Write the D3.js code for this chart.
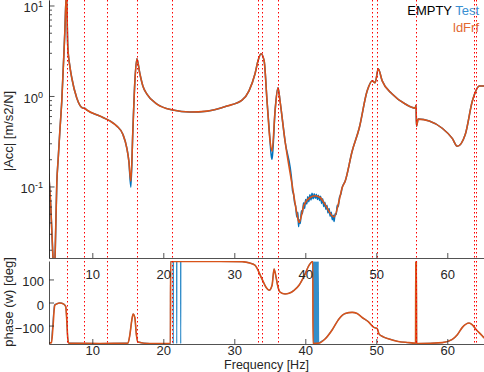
<!DOCTYPE html>
<html>
<head>
<meta charset="utf-8">
<script src="https://cdn.jsdelivr.net/npm/d3@7"></script>
<style>
  body { margin: 0; background: #fff; }
  svg { display: block; }
</style>
</head>
<body>
<div id="plot"></div>
<script>
// ---- data ----
// magnitude, identified FRF (orange)
const frfFreq = [3.86, 4.15, 4.45, 4.60, 4.78, 5.00, 5.18, 5.42, 5.70, 6.12, 6.36, 6.54, 6.83, 7.11, 7.81, 8.66, 8.94, 9.22,
  11.06, 12.47, 13.46, 14.30, 14.87, 15.15, 15.43, 15.71, 16.00, 16.28, 16.70, 17.12, 17.69, 19.10, 21.35, 23.75, 26.15,
  28.97, 31.09, 32.07, 32.92, 33.34, 33.77, 34.20, 34.61, 35.04, 35.32, 35.74, 36.16, 36.44, 37.15, 38.14, 38.84, 39.12,
  39.83, 40.68, 41.38, 42.09, 42.79, 44.06, 44.77, 45.19, 45.61, 46.60, 47.59, 48.72, 49.42, 49.84, 50.27, 50.83, 52.24,
  54.08, 55.49, 55.60, 55.66, 55.90, 57.46, 59.29, 60.70, 61.41, 62.54, 63.53, 64.52, 65.20];
const frfMag = [0.139, 0.060, 0.017, 0.008, 0.020, 0.110, 0.194, 0.40, 0.88, 4.9, 14, 3.6, 2.15, 1.58, 0.95, 0.735, 0.73, 0.70,
  0.60, 0.53, 0.464, 0.378, 0.264, 0.19, 0.114, 0.41, 1.47, 2.58, 1.76, 1.29, 1.05, 0.815, 0.70, 0.664, 0.68,
  0.774, 0.90, 1.14, 1.76, 2.45, 2.93, 2.45, 0.88, 0.316, 0.245, 0.68, 1.23, 0.88, 0.316, 0.105, 0.049, 0.040,
  0.063, 0.0755, 0.079, 0.0755, 0.063, 0.046, 0.070, 0.097, 0.114, 0.245, 0.44, 1.14, 1.47, 1.40, 2.0, 1.47, 1.05,
  0.815, 0.735, 0.79, 0.464, 0.555, 0.53, 0.44, 0.34, 0.278, 0.378, 0.88, 1.29, 1.29];

// magnitude, measured test (blue)
const testFreq = [3.86, 4.15, 4.45, 4.60, 4.78, 5.00, 5.18, 5.42, 5.70, 6.12, 6.36, 6.54, 6.83, 7.11, 7.81, 8.66, 8.94, 9.22,
  11.06, 12.47, 13.46, 14.30, 14.87, 15.15, 15.43, 15.71, 16.00, 16.28, 16.70, 17.12, 17.69, 19.10, 21.35, 23.75, 26.15,
  28.97, 31.09, 32.07, 32.92, 33.34, 33.77, 34.20, 34.61, 35.04, 35.10, 35.20, 35.30, 35.40, 35.74, 36.16, 36.44, 37.15,
  38.14, 38.20, 38.35, 38.50, 38.65, 38.80, 38.95, 39.05, 39.15, 39.30, 39.45, 39.60, 39.75, 39.90, 40.05, 40.20, 40.35,
  40.50, 40.65, 40.80, 40.95, 41.10, 41.25, 41.40, 41.55, 41.70, 41.85, 42.00, 42.15, 42.30, 42.45, 42.60, 42.75, 42.90,
  43.05, 43.20, 43.35, 43.50, 43.65, 43.80, 43.95, 44.05, 44.20, 44.35, 44.50, 44.65, 44.80, 45.00, 45.19, 45.61, 46.60,
  47.59, 48.72, 49.42, 49.84, 50.27, 50.83, 52.24, 54.08, 55.49, 55.60, 55.66, 55.90, 57.46, 59.29, 60.70, 61.41, 62.54,
  63.53, 64.52, 65.20];
const testMag = [0.139, 0.060, 0.017, 0.008, 0.020, 0.110, 0.194, 0.40, 0.88, 4.9, 14, 3.6, 2.15, 1.58, 0.95, 0.735, 0.73, 0.70,
  0.60, 0.53, 0.464, 0.378, 0.264, 0.19, 0.098, 0.41, 1.47, 2.58, 1.76, 1.29, 1.05, 0.815, 0.70, 0.664, 0.68,
  0.774, 0.90, 1.14, 1.76, 2.45, 2.93, 2.45, 0.88, 0.316, 0.27, 0.22, 0.20, 0.23, 0.68, 1.23, 0.88, 0.316,
  0.105, 0.090, 0.082, 0.066, 0.060, 0.046, 0.052, 0.036, 0.043, 0.039, 0.054, 0.050, 0.066, 0.057, 0.072, 0.064, 0.077,
  0.068, 0.081, 0.071, 0.084, 0.073, 0.083, 0.074, 0.082, 0.072, 0.080, 0.070, 0.078, 0.065, 0.073, 0.060, 0.067, 0.056,
  0.062, 0.051, 0.057, 0.047, 0.052, 0.043, 0.048, 0.041, 0.050, 0.049, 0.062, 0.060, 0.075, 0.082, 0.097, 0.114, 0.245,
  0.44, 1.14, 1.47, 1.40, 2.0, 1.47, 1.05, 0.815, 0.735, 0.79, 0.464, 0.555, 0.53, 0.44, 0.34, 0.278, 0.378,
  0.88, 1.29, 1.29];

// phase [deg], identified FRF (orange)
const frfPhFreq = [3.86, 4.25, 4.43, 4.71, 4.99, 5.42, 5.98, 6.26, 6.40, 6.54, 6.69, 11.06, 15.01, 15.29, 15.57, 15.75,
  15.99, 16.21, 16.42, 18.10, 21.00, 21.03, 27.98, 31.09, 32.20, 32.90, 33.91, 34.47, 34.90, 35.32, 35.60, 35.88,
  36.16, 36.44, 37.15, 37.71, 38.42, 39.12, 39.83, 40.54, 41.06, 41.08, 41.95, 42.79, 43.78, 44.77, 45.61, 46.60,
  47.30, 48.01, 48.86, 49.66, 50.13, 50.37, 50.97, 51.78, 53.09, 54.60, 55.53, 55.56, 55.60, 55.64, 55.68, 55.90,
  59.29, 60.70, 61.41, 62.12, 63.06, 63.53, 64.00, 64.94, 65.20];
const frfPhase = [-176, -174, -118, -13, -6, -2, -7, -18, -75, -154, -176, -178, -176, -140, -75, -50,
  -66, -140, -171, -178, -178, 178, 178, 177, 171, 162, 101, 66, 53, 75, 145, 110,
  66, 45, 37, 40, 53, 75, 114, 162, 178, -178, -176, -158, -119, -70, -48, -43,
  -48, -65, -83, -108, -113, -136, -149, -158, -169, -174, -177, 178, -178, 178, -178, -178,
  -174, -160, -140, -108, -89, -97, -115, -145, -154];

// phase [deg], measured test (blue)
const testPhFreq = [3.86, 4.22, 4.40, 4.68, 4.99, 5.42, 5.98, 6.26, 6.40, 6.54, 6.69, 11.06, 15.01, 15.29, 15.57, 15.75,
  15.99, 16.21, 16.42, 18.10, 21.00, 21.03, 21.39, 21.41, 21.43, 21.87, 21.89, 21.91, 22.43, 22.45, 22.47, 27.98,
  31.09, 32.20, 32.90, 33.91, 34.47, 34.90, 35.32, 35.60, 35.88, 36.16, 36.44, 37.15, 37.71, 38.42, 39.12, 39.83,
  40.54, 41.06, 41.10, 41.16, 41.22, 41.28, 41.34, 41.40, 41.46, 41.52, 41.58, 41.64, 41.70, 41.76, 41.82, 41.88,
  41.94, 42.79, 43.78, 44.77, 45.61, 46.60, 47.30, 48.01, 48.86, 49.66, 50.13, 50.37, 50.97, 51.78, 53.09, 54.60,
  55.53, 55.56, 55.60, 55.64, 55.68, 55.90, 59.29, 60.70, 61.41, 62.12, 63.06, 63.53, 64.00, 64.94, 65.20];
const testPhase = [-176, -172, -110, -10, -6, -2, -7, -18, -75, -154, -176, -178, -176, -140, -75, -50,
  -66, -140, -171, -178, -178, 178, 178, -178, 178, 178, -178, 178, 178, -178, 178, 178,
  177, 171, 162, 101, 66, 53, 75, 145, 110, 66, 45, 37, 40, 53, 75, 114,
  162, 178, 178, -178, 178, -178, 178, -178, 178, -178, 178, -178, 178, -178, 178, -178,
  -176, -158, -119, -70, -48, -43, -48, -65, -83, -108, -113, -136, -149, -158, -169, -174,
  -177, 178, -178, 178, -178, -178, -174, -160, -140, -108, -89, -97, -115, -145, -154];

// identified mode frequencies (red dotted lines)
const modeFreqs = [6.38, 8.82, 12.1, 16.32, 21.18, 33.38, 33.94, 36.12, 49.36, 50.14, 55.6, 63.72, 64.1];

// ticks
const freqTicks = [10, 20, 30, 40, 50, 60];
const magTicks = [0.1, 1, 10];
const magExponents = ["-1", "0", "1"];
const phaseTicks = [-100, 0, 100];

// ---- layout ----
const width = 484, height = 372;
const left = 49, right = 484;
const magTop = 0, magBottom = 258;
const phTop = 261, phBottom = 344;
const font = "'Liberation Sans', Arial, Helvetica, sans-serif";
const axisColor = "#262626";
const blue = "#0072BD", orange = "#D95319";

const svg = d3.select("div#plot")
  .append("svg")
    .attr("width", width)
    .attr("height", height)
    .style("font-family", font);

const x = d3.scaleLinear().domain([3.9, 65.17]).range([left, right]);
const yMag = d3.scaleLog().domain([0.0162, 11.5]).range([magBottom, magTop]);
const yPh = d3.scaleLinear().domain([-180, 180]).range([phBottom, phTop]);

const defs = svg.append("defs");
defs.append("clipPath").attr("id", "clipMag")
  .append("rect").attr("x", left).attr("y", magTop).attr("width", right - left).attr("height", magBottom - magTop);
defs.append("clipPath").attr("id", "clipPh")
  .append("rect").attr("x", left).attr("y", phTop).attr("width", right - left).attr("height", phBottom - phTop);

const magLine = d3.line().x(d => x(d[0])).y(d => yMag(d[1])).curve(d3.curveMonotoneX);
const phLine = d3.line().x(d => x(d[0])).y(d => yPh(d[1])).curve(d3.curveMonotoneX);

// magnitude panel
const gMag = svg.append("g").attr("clip-path", "url(#clipMag)");
gMag.append("path")
    .datum(d3.zip(testFreq, testMag))
    .attr("d", magLine)
    .attr("fill", "none")
    .attr("stroke", blue)
    .attr("stroke-width", 1.5);
gMag.append("path")
    .datum(d3.zip(frfFreq, frfMag))
    .attr("d", magLine)
    .attr("fill", "none")
    .attr("stroke", orange)
    .attr("stroke-width", 1.6);

// phase panel
const gPh = svg.append("g").attr("clip-path", "url(#clipPh)");
gPh.append("path")
    .datum(d3.zip(testPhFreq, testPhase))
    .attr("d", phLine)
    .attr("fill", "none")
    .attr("stroke", blue)
    .attr("stroke-width", 1.2)
    .attr("stroke-opacity", 0.8);
gPh.append("path")
    .datum(d3.zip(frfPhFreq, frfPhase))
    .attr("d", phLine)
    .attr("fill", "none")
    .attr("stroke", orange)
    .attr("stroke-width", 1.6);

// red dotted mode lines in both panels
[[magTop, magBottom], [phTop, phBottom]].forEach(([y0, y1]) => {
  svg.append("g").selectAll("line")
    .data(modeFreqs)
    .join("line")
      .attr("x1", d => Math.round(x(d)) + 0.5)
      .attr("x2", d => Math.round(x(d)) + 0.5)
      .attr("y1", y0)
      .attr("y2", y1)
      .attr("stroke", "#ff0000")
      .attr("stroke-width", 1)
      .attr("stroke-dasharray", "1.5,2.5");
});

// axes
function styleAxis(g) {
  g.attr("font-family", font).attr("font-size", 13);
  g.selectAll("path, line").attr("stroke", axisColor).attr("stroke-width", 0.8);
  g.selectAll("text").attr("fill", axisColor);
}

svg.append("g")
    .attr("transform", `translate(0, ${magBottom})`)
    .call(d3.axisBottom(x).tickValues(freqTicks).tickSize(-5).tickSizeOuter(0).tickPadding(12))
    .call(styleAxis);

svg.append("g")
    .attr("transform", `translate(0, ${phBottom})`)
    .call(d3.axisBottom(x).tickValues(freqTicks).tickSize(-5).tickSizeOuter(0).tickPadding(2))
    .call(styleAxis);

// log axis: minor ticks, then major with 10^n labels
svg.append("g")
    .attr("transform", `translate(${left}, 0)`)
    .call(d3.axisLeft(yMag).tickValues(yMag.ticks().filter(v => !magTicks.includes(v))).tickSize(-3).tickSizeOuter(0).tickFormat(""))
    .call(styleAxis);

const magAxis = svg.append("g")
    .attr("transform", `translate(${left}, 0)`)
    .call(d3.axisLeft(yMag).tickValues(magTicks).tickSize(-5.5).tickSizeOuter(0).tickFormat(""))
    .call(styleAxis);
magAxis.selectAll(".tick text").each(function(d, i) {
  const t = d3.select(this).attr("x", -6).attr("dy", "0.5em");
  t.append("tspan").text("10");
  t.append("tspan").attr("dy", "-0.6em").attr("font-size", 9).text(magExponents[i]);
});

svg.append("g")
    .attr("transform", `translate(${left}, 0)`)
    .call(d3.axisLeft(yPh).tickValues(phaseTicks).tickSize(-5).tickSizeOuter(0).tickPadding(5))
    .call(styleAxis)
    .selectAll("text").attr("dy", "0.5em");

// axis labels
svg.append("text")
    .attr("transform", `translate(13, 131) rotate(-90)`)
    .attr("text-anchor", "middle")
    .attr("font-size", 13)
    .attr("fill", axisColor)
    .text("|Acc| [m/s2/N]");

svg.append("text")
    .attr("transform", `translate(13, 302) rotate(-90)`)
    .attr("text-anchor", "middle")
    .attr("font-size", 13)
    .attr("fill", axisColor)
    .text("phase (w) [deg]");

svg.append("text")
    .attr("x", (left + right) / 2)
    .attr("y", 369)
    .attr("text-anchor", "middle")
    .attr("font-size", 12.5)
    .attr("fill", axisColor)
    .text("Frequency [Hz]");

// legend text
const leg = svg.append("text")
    .attr("x", 479)
    .attr("y", 15)
    .attr("text-anchor", "end")
    .attr("font-size", 13);
leg.append("tspan").attr("fill", "#000").text("EMPTY ");
leg.append("tspan").attr("fill", "#3a8fd2").text("Test");

svg.append("text")
    .attr("x", 479)
    .attr("y", 32)
    .attr("text-anchor", "end")
    .attr("font-size", 13)
    .attr("fill", "#e2682f")
    .text("ldFrf");
</script>
</body>
</html>
